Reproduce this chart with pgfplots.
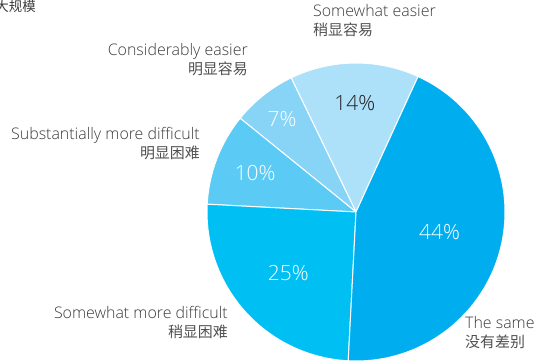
\documentclass[border=0pt]{standalone}
\usepackage{pgfplots}
\usepackage{pgfplotstable}
\pgfplotsset{compat=1.18}
\usetikzlibrary{calc}
\usepackage{fontspec}
\setmainfont{Open Sans}[UprightFont=* Light]
\newfontfamily\cjk{Noto Sans CJK SC}
\definecolor{c44}{HTML}{00AEEF}
\definecolor{c25}{HTML}{00BFF3}
\definecolor{c10}{HTML}{5BCBF5}
\definecolor{c7}{HTML}{87D4F6}
\definecolor{c14}{HTML}{ADE1FA}
\definecolor{dark}{HTML}{231F20}
\definecolor{txt}{HTML}{3A3A3A}
\definecolor{cjktxt}{HTML}{505050}
\newcommand{\zh}[1]{{\cjk\fontsize{15}{19.5}\selectfont\color{cjktxt}#1}}
% share (%), fill colour, label colour, label radius (bp)
\pgfplotstableread{
pct col txtcol rad
14 c14 dark  109
7  c7  white 119
10 c10 white 108
25 c25 white 91
44 c44 white 86
}\piedata
\begin{document}
\begin{tikzpicture}
\begin{axis}[
  scale only axis, width=535bp, height=363bp,
  xmin=0, xmax=535, ymin=0, ymax=363,
  axis lines=none, clip=false,
]
\pgfmathsetmacro{\cur}{65.4}
\pgfplotsforeachungrouped \i in {0,...,4}{%
  \pgfplotstablegetelem{\i}{pct}\of\piedata \let\p=\pgfplotsretval
  \pgfplotstablegetelem{\i}{col}\of\piedata \let\cc=\pgfplotsretval
  \pgfplotstablegetelem{\i}{txtcol}\of\piedata \let\tc=\pgfplotsretval
  \pgfplotstablegetelem{\i}{rad}\of\piedata \let\rr=\pgfplotsretval
  \pgfmathsetmacro{\nxt}{\cur+3.6*\p}%
  \pgfmathsetmacro{\mid}{(\cur+\nxt)/2}%
  \edef\temp{\noexpand\fill[\cc, draw=white, line width=1bp, line join=round]
    (axis cs:356,151) -- ++(\cur:149bp) arc[start angle=\cur, end angle=\nxt, radius=149bp] -- cycle;
    \noexpand\node[text=\tc, font=\noexpand\fontsize{21}{24}\noexpand\selectfont]
    at ($(axis cs:356,151)+(\mid:\rr bp)$) {\p\noexpand\%};}%
  \temp
  \let\cur=\nxt
}
\end{axis}
\begin{scope}[font=\fontsize{16}{19.5}\selectfont, text=txt, inner sep=0pt]
\node[anchor=north west, align=left] at (313bp,359bp) {Somewhat easier\\\zh{稍显容易}};
\node[anchor=north east, align=right] at (248bp,320bp) {Considerably easier\\\zh{明显容易}};
\node[anchor=north east, align=right] at (200bp,236bp) {Substantially more difficult\\\zh{明显困难}};
\node[anchor=north east, align=right] at (228bp,57bp) {Somewhat more difficult\\\zh{稍显困难}};
\node[anchor=north west, align=left] at (465bp,47bp) {The same\\\zh{没有差别}};
\node[anchor=east, font=\cjk\fontsize{13.5}{15}\selectfont] at (36bp,357bp) {大规模};
\end{scope}
\pgfresetboundingbox
\useasboundingbox (0,0) rectangle (535bp,363bp);
\end{tikzpicture}
\end{document}
